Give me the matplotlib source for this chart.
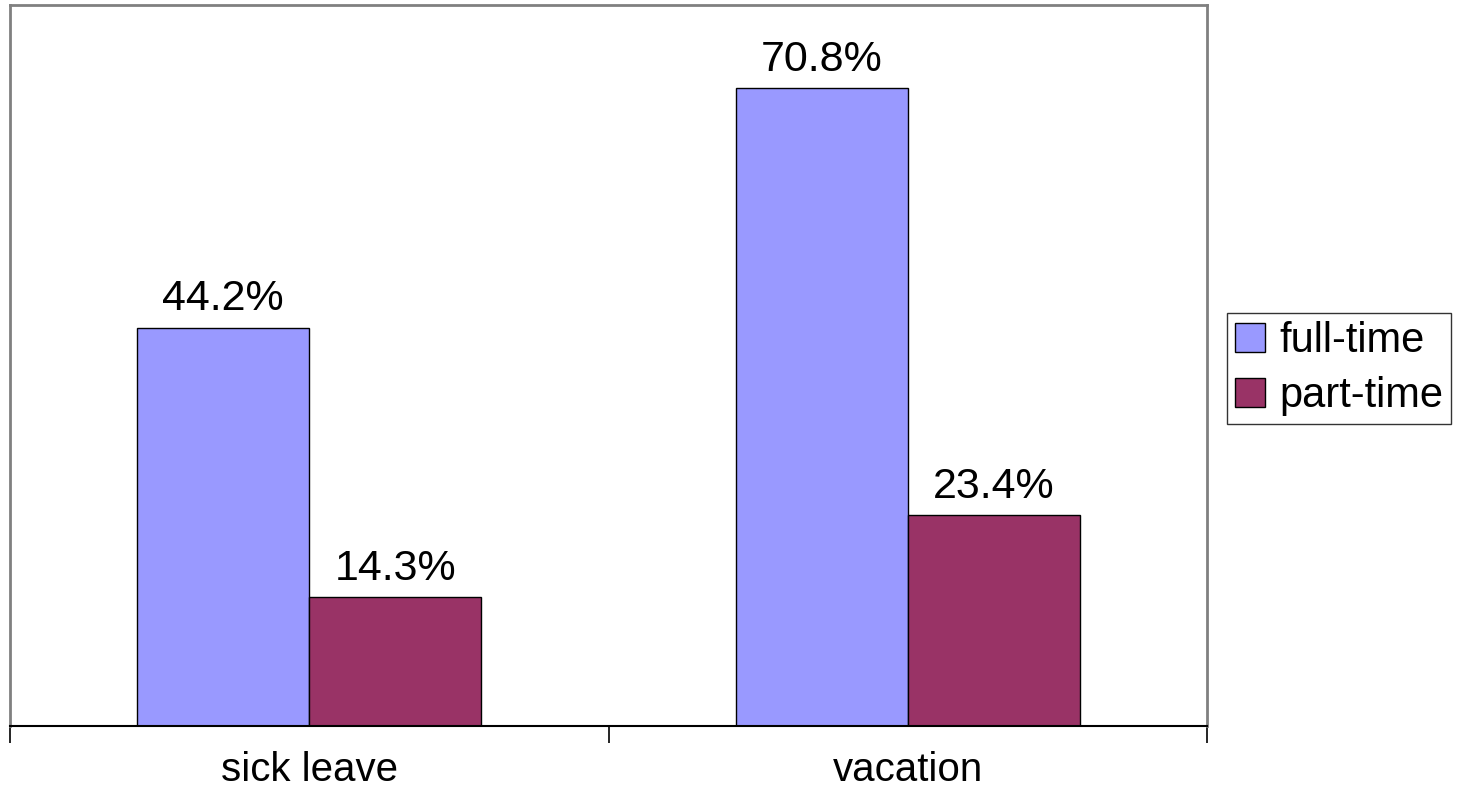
import numpy as np
import matplotlib.pyplot as plt
from matplotlib.patches import Patch

categories = ['sick leave', 'vacation']
series_names = ['full-time', 'part-time']
full_time = [44.2, 70.8]
part_time = [14.3, 23.4]

colors = ['#9999ff', '#993366']

plt.rcParams['font.family'] = ['Liberation Sans', 'DejaVu Sans']

fig = plt.figure(figsize=(14.63, 7.97), dpi=100)
ax = fig.add_axes([10 / 1463, 71 / 797, 1197 / 1463, 721 / 797])

x = np.arange(len(categories))
w = 0.2876
bars_ft = ax.bar(x - w / 2, full_time, w, color=colors[0], edgecolor='black', linewidth=1)
bars_pt = ax.bar(x + w / 2, part_time, w, color=colors[1], edgecolor='black', linewidth=1)

for bars, vals in [(bars_ft, full_time), (bars_pt, part_time)]:
    for b, v in zip(bars, vals):
        ax.annotate(f'{v:.1f}%', (b.get_x() + b.get_width() / 2, v),
                    xytext=(0, 6), textcoords='offset points',
                    ha='center', va='bottom', fontsize=31)

ax.set_xlim(-0.5, 1.5)
ax.set_ylim(0, 80)
ax.set_yticks([])

# category boundaries get tick marks, names sit between them
ax.set_xticks([-0.5, 0.5, 1.5])
ax.set_xticklabels([])
ax.set_xticks(x, minor=True)
ax.set_xticklabels(categories, minor=True, fontsize=29)
ax.tick_params(axis='x', which='major', direction='out', length=12, width=1.2, color='black')
ax.tick_params(axis='x', which='minor', length=0, pad=18)

for side in ['top', 'right', 'left']:
    ax.spines[side].set_color('#808080')
    ax.spines[side].set_linewidth(2)
ax.spines['bottom'].set_color('black')
ax.spines['bottom'].set_linewidth(1.5)

handles = [Patch(facecolor=c, edgecolor='black', label=n) for c, n in zip(colors, series_names)]
leg = fig.legend(handles=handles, loc='upper left', bbox_to_anchor=(1227 / 1463, 1 - 313 / 797),
                 fontsize=30, frameon=True, fancybox=False, edgecolor='black',
                 handlelength=0.7, handleheight=0.7, handletextpad=0.35,
                 borderpad=0.2, labelspacing=0.35, borderaxespad=0)
leg.get_frame().set_linewidth(1)

fig.savefig('out.png', dpi=100)
